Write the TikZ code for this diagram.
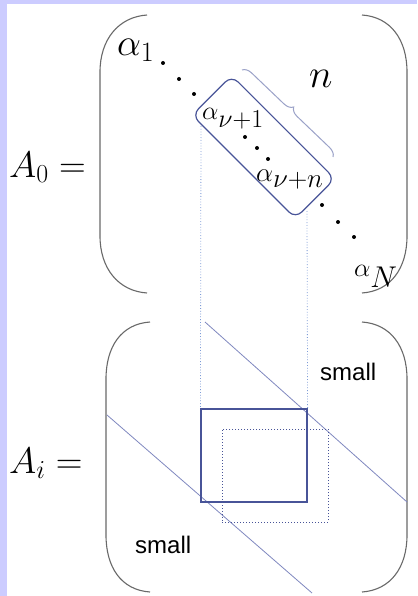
\RequirePackage{fix-cm}
\documentclass[tikz,border=0pt]{standalone}
\usepackage{fontspec}
\newfontfamily\smallfont{Liberation Sans}
\usetikzlibrary{decorations.pathreplacing}
\definecolor{lav}{RGB}{204,204,255}
\definecolor{boxblue}{RGB}{72,84,152}
\definecolor{diagblue}{RGB}{128,136,192}
\definecolor{guideblue}{RGB}{125,155,215}
\definecolor{bracegray}{RGB}{155,162,200}
\definecolor{parengray}{RGB}{105,105,105}

\begin{document}
\begin{tikzpicture}[x=1pt, y=-1pt,
    paren/.style={draw=parengray, line width=1.1pt},
    lbl/.style={inner sep=0pt, anchor=base west},
    win/.style={draw=boxblue, line width=1.2pt, rounded corners=9pt, rotate=-45,
                minimum width=146pt, minimum height=56pt, inner sep=0pt},
    blk/.style={draw=boxblue, line width=1.2pt, minimum width=106pt, minimum height=93pt, inner sep=0pt},
    shd/.style={draw=boxblue, dotted, line width=1pt, minimum width=106pt, minimum height=93pt, inner sep=0pt},
    diag/.style={draw=diagblue, line width=0.8pt},
    guide/.style={draw=guideblue, dotted, line width=0.8pt},
    brc/.style={draw=bracegray, line width=1pt, decorate, decoration={brace, amplitude=9pt}}]
    % Background
    \fill[white] (0,0) rectangle (417,596);
    \fill[lav] (0,0) rectangle (7,596);
    \fill[lav] (0,0) rectangle (417,4);
    \useasboundingbox (0,0) rectangle (417,596);

    % Parentheses
    \draw[paren] (147,15) .. controls (118,17) and (100,40) .. (100,72) -- (100,236) .. controls (100,268) and (118,291) .. (147,293);
    \draw[paren] (362,15) .. controls (391,17) and (407,40) .. (407,72) -- (407,236) .. controls (407,268) and (391,291) .. (362,293);
    \draw[paren] (150,322) .. controls (121,324) and (106,347) .. (106,379) -- (106,535) .. controls (106,567) and (121,590) .. (150,592);
    \draw[paren] (362,322) .. controls (391,324) and (407,347) .. (407,379) -- (407,535) .. controls (407,567) and (391,590) .. (362,592);

    % A_0
    \node[lbl, font=\fontsize{37}{42}\selectfont] (azero) at (9,177) {$A_0 =$};
    \node[lbl, font=\fontsize{38}{44}\selectfont] (alpha1) at (117,56) {$\alpha_{\mbox{\fontsize{28}{32}\selectfont 1}}$};
    \node[win] (win) at (263.5,147) {};
    \node[lbl, font=\fontsize{26}{30}\selectfont] (alphanu1) at (202,120) {$\alpha_{\textstyle\nu{+}1}$};
    \node[lbl, font=\fontsize{27}{30}\selectfont] (alphanun) at (256,182) {$\alpha_{\textstyle\nu{+}n}$};
    \node[lbl, font=\fontsize{26}{30}\selectfont] (alphaN) at (354,276) {$\alpha_{\mbox{\fontsize{30}{34}\selectfont$N$}}$};
    \node[lbl, font=\fontsize{40}{46}\selectfont] (nlen) at (309,88) {$n$};
    \draw[brc] (242,70) -- (333,157);

    \fill (163,63) circle (2pt);
    \fill (179,79) circle (2pt);
    \fill (194,94) circle (2pt);
    \fill (245,137) circle (2pt);
    \fill (257,148) circle (2pt);
    \fill (268,159) circle (2pt);
    \fill (322,205) circle (2pt);
    \fill (338,222) circle (2pt);
    \fill (354,237) circle (2pt);

    % A_i
    \node[lbl, font=\fontsize{37}{42}\selectfont] (ai) at (9,473) {$A_i =$};
    \draw[diag] (205,322) -- (407,502);
    \draw[diag] (107,415) -- (312,593);
    \node[blk] (blk) at (254,455.5) {};
    \node[shd] (shd) at (275,475.5) {};
    \node[lbl, font=\smallfont\fontsize{24}{28}\selectfont] (smallup) at (320,380) {small};
    \node[lbl, font=\smallfont\fontsize{24}{28}\selectfont] (smalldown) at (135,553) {small};

    % Guides
    \coordinate (wl) at (201,126);
    \coordinate (wr) at (307,211);
    \draw[guide] (wl) -- (blk.north west);
    \draw[guide] (wr) -- (blk.north east);
\end{tikzpicture}
\end{document}
